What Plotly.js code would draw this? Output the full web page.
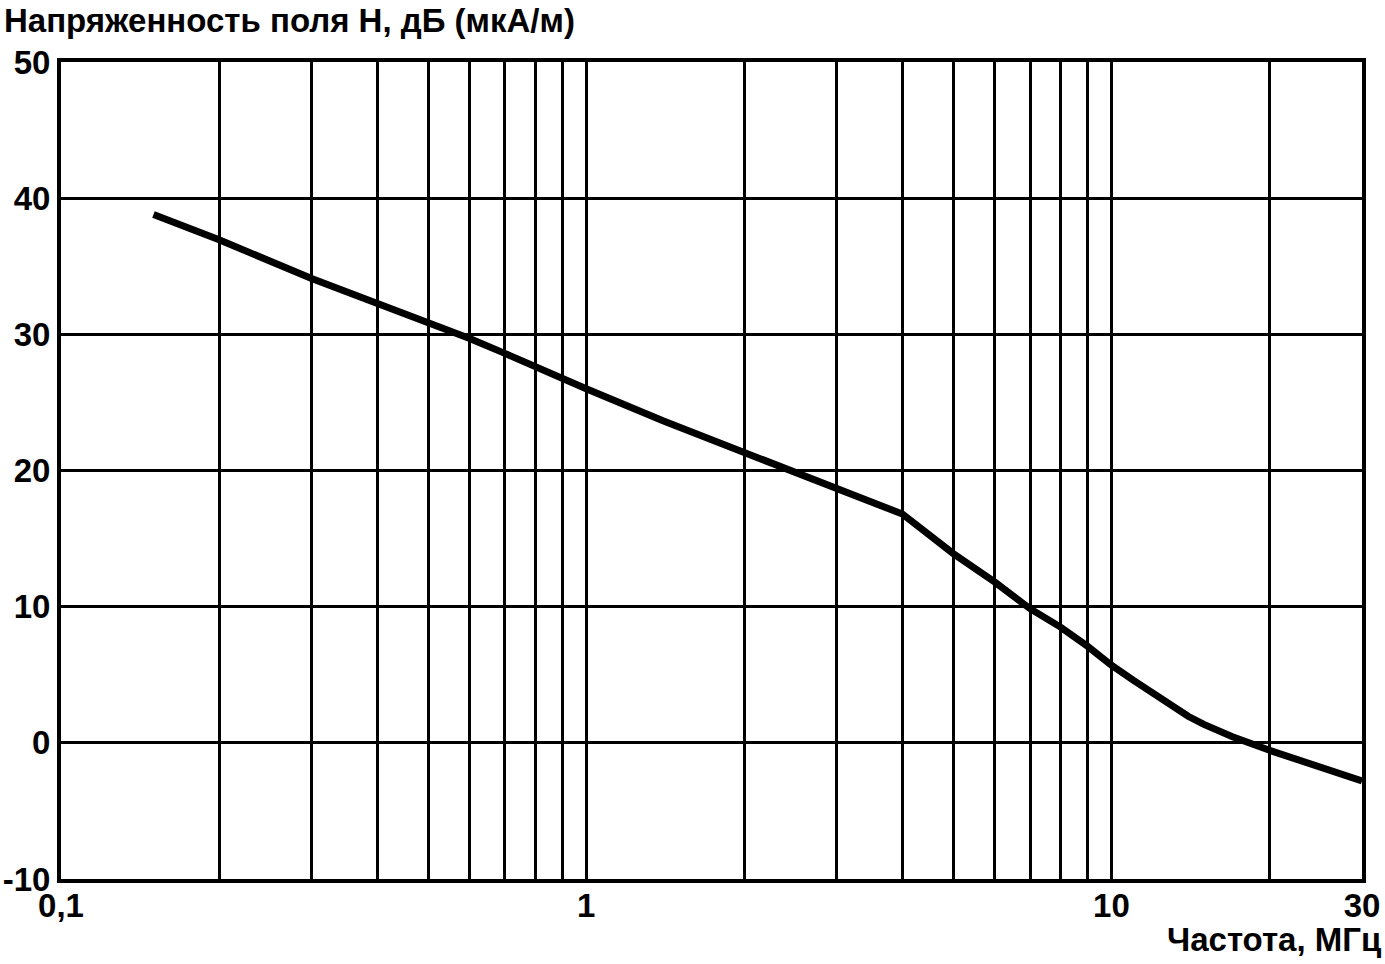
<!DOCTYPE html>
<html>
<head>
<meta charset="utf-8">
<script src="https://cdn.plot.ly/plotly-3.0.1.min.js"></script>
<style>html,body{margin:0;padding:0;background:#fff;}</style>
</head>
<body>
<div id="chart" style="width:1385px;height:964px;"></div>
<script>
// Frequency, MHz
const freqMHz = [0.15, 0.2, 0.3, 0.4, 0.5, 0.6, 0.7, 0.8, 0.9, 1, 1.4, 2, 3, 4, 5, 6, 7, 8, 9, 10, 11, 12, 13, 14, 15, 17, 20, 25, 30];
// Field strength H, dB(uA/m)
const fieldH = [38.8, 36.95, 34.1, 32.3, 30.9, 29.7, 28.6, 27.6, 26.8, 26.0, 23.65, 21.3, 18.6, 16.8, 13.9, 11.8, 9.85, 8.5, 7.1, 5.7, 4.6, 3.6, 2.7, 1.95, 1.35, 0.45, -0.55, -1.8, -2.8];

const xTickVals = [0.1, 1, 10, 30];
const xTickText = ['0,1', '1', '10', '30'];
const xMinorVals = [0.2, 0.3, 0.4, 0.5, 0.6, 0.7, 0.8, 0.9, 2, 3, 4, 5, 6, 7, 8, 9, 20];
const yTickVals = [-10, 0, 10, 20, 30, 40, 50];
const yTickText = ['-10', '0', '10', '20', '30', '40', '50'];

const titleText = 'Напряженность поля Н, дБ (мкА/м)';
const xTitleText = 'Частота, МГц';

const FONT = {family: 'Liberation Sans, Arial, sans-serif', size: 33, color: '#000', weight: 'bold'};

const trace = {
  x: freqMHz,
  y: fieldH,
  type: 'scatter',
  mode: 'lines',
  line: {color: '#000', width: 7},
  hoverinfo: 'skip'
};

const layout = {
  width: 1385,
  height: 964,
  margin: {l: 61, r: 23, t: 62, b: 85},
  paper_bgcolor: '#fff',
  plot_bgcolor: '#fff',
  showlegend: false,
  font: FONT,
  title: {
    text: titleText,
    font: FONT,
    xref: 'container', yref: 'container',
    x: 4 / 1385, xanchor: 'left',
    y: 1 - 20 / 964, yanchor: 'middle'
  },
  xaxis: {
    type: 'log',
    range: [-1, Math.log10(30)],
    tickmode: 'array',
    tickvals: xTickVals,
    ticktext: xTickText,
    ticks: '',
    showgrid: true,
    gridcolor: '#000',
    gridwidth: 3,
    minor: {tickmode: 'array', tickvals: xMinorVals, showgrid: true, gridcolor: '#000', gridwidth: 3, ticks: ''},
    showline: true, mirror: true, linecolor: '#000', linewidth: 4,
    zeroline: false,
    tickfont: FONT,
    ticklabelstandoff: -6,
    fixedrange: true
  },
  yaxis: {
    range: [-10, 50],
    tickmode: 'array',
    tickvals: yTickVals,
    ticktext: yTickText,
    ticks: '',
    showgrid: true,
    gridcolor: '#000',
    gridwidth: 3,
    showline: true, mirror: true, linecolor: '#000', linewidth: 4,
    zeroline: false,
    tickfont: FONT,
    ticklabelstandoff: 0,
    fixedrange: true
  },
  annotations: [{
    text: xTitleText,
    xref: 'paper', yref: 'paper',
    x: (1383 - 61) / 1301, xanchor: 'right',
    y: -(940 - 879) / 817, yanchor: 'middle',
    showarrow: false,
    font: FONT
  }]
};

Plotly.newPlot('chart', [trace], layout, {displayModeBar: false, staticPlot: true});
</script>
</body>
</html>
